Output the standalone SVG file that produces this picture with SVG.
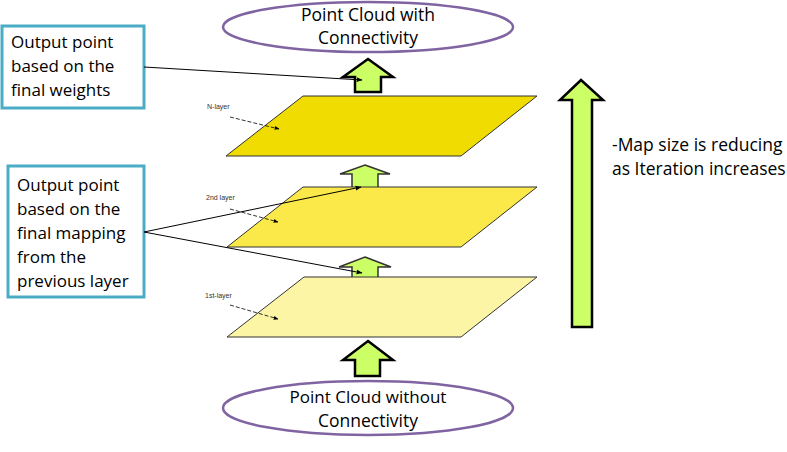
<svg xmlns="http://www.w3.org/2000/svg" width="787" height="452" viewBox="0 0 787 452">
<defs>
<style>
.ell{fill:#fff;stroke:#8064a2;stroke-width:2.5}
.box{fill:#fff;stroke:#4bacc6;stroke-width:3}
.arr{fill:#ccff66;stroke:#000;stroke-width:2.5;stroke-linejoin:miter}
.arrs{fill:#ccff66;stroke:#333;stroke-width:1.5}
.lay{stroke:#333;stroke-width:1}
.t{font-family:"Open Sans","Liberation Sans",sans-serif;fill:#000}
.big{font-size:17px}
.mid{font-size:17.5px}
.sm{font-family:"Liberation Sans",sans-serif;font-size:7px;fill:#333}
.ln{fill:none;stroke:#000;stroke-width:1}
.dl{fill:none;stroke:#000;stroke-width:0.8;stroke-dasharray:4,2}
</style>
<marker id="ah" viewBox="0 0 10 10" refX="9" refY="5" markerWidth="6" markerHeight="6" orient="auto">
<path d="M0,1 L10,5 L0,9 z" fill="#000"/>
</marker>
</defs>
<rect width="787" height="452" fill="#fff"/>

<g id="top-ellipse">
<ellipse class="ell" cx="368" cy="27" rx="145" ry="25"/>
<text class="t mid" x="368" y="21" text-anchor="middle">Point Cloud with</text>
<text class="t mid" x="368" y="44" text-anchor="middle">Connectivity</text>
</g>

<g id="arrow-top">
<polygon class="arr" points="368,59 393,77 381,77 381,92 355,92 355,77 343,77"/>
</g>

<g id="n-layer">
<polygon class="lay" fill="#f0dc00" points="303,96 537,96 461,156 226,156"/>
<text class="sm" x="207" y="109">N-layer</text>
</g>

<g id="arrow-mid1">
<polygon class="arrs" points="365,165 390,174 378,174 378,199 352,199 352,174 340,174"/>
</g>

<g id="layer-2">
<polygon class="lay" fill="#fbe94a" points="303,187 537,187 461,247 227,247"/>
<text class="sm" x="206" y="200">2nd layer</text>
</g>

<g id="arrow-mid2">
<polygon class="arrs" points="365,257 391,267 378,267 378,293 352,293 352,267 339,267"/>
</g>

<g id="layer-1">
<polygon class="lay" fill="#fdf5a6" points="304,277 537,277 461,337 227,337"/>
<text class="sm" x="205" y="298">1st-layer</text>
</g>

<g id="arrow-bottom">
<polygon class="arr" points="368,341 393,360 380,360 380,376 355,376 355,360 343,360"/>
</g>

<g id="bottom-ellipse">
<ellipse class="ell" cx="368" cy="408" rx="145" ry="27"/>
<text class="t big" x="368" y="403" text-anchor="middle">Point Cloud without</text>
<text class="t mid" x="368" y="427" text-anchor="middle">Connectivity</text>
</g>

<g id="box-weights">
<rect class="box" x="2" y="26" width="142" height="82"/>
<text class="t big" x="11" y="48">Output point</text>
<text class="t big" x="11" y="72">based on the</text>
<text class="t big" x="11" y="96">final weights</text>
</g>

<g id="box-mapping">
<rect class="box" x="8" y="166" width="136" height="131"/>
<text class="t big" x="17" y="191">Output point</text>
<text class="t big" x="17" y="215">based on the</text>
<text class="t big" x="17" y="239">final mapping</text>
<text class="t big" x="17" y="263">from the</text>
<text class="t big" x="17" y="287">previous layer</text>
</g>

<g id="big-arrow">
<polygon class="arr" points="581,80 603,100 592,100 592,327 572,327 572,100 560,100"/>
<text class="t mid" x="612" y="151">-Map size is reducing</text>
<text class="t mid" x="612" y="175">as Iteration increases</text>
</g>

<g id="connectors">
<line class="ln" x1="144" y1="67" x2="362" y2="80" marker-end="url(#ah)"/>
<line class="ln" x1="144" y1="232" x2="361" y2="187" marker-end="url(#ah)"/>
<line class="ln" x1="144" y1="232" x2="362" y2="273" marker-end="url(#ah)"/>
<line class="dl" x1="230" y1="117" x2="279" y2="129" marker-end="url(#ah)"/>
<line class="dl" x1="230" y1="209" x2="278" y2="222" marker-end="url(#ah)"/>
<line class="dl" x1="230" y1="305" x2="278" y2="319" marker-end="url(#ah)"/>
</g>
</svg>
